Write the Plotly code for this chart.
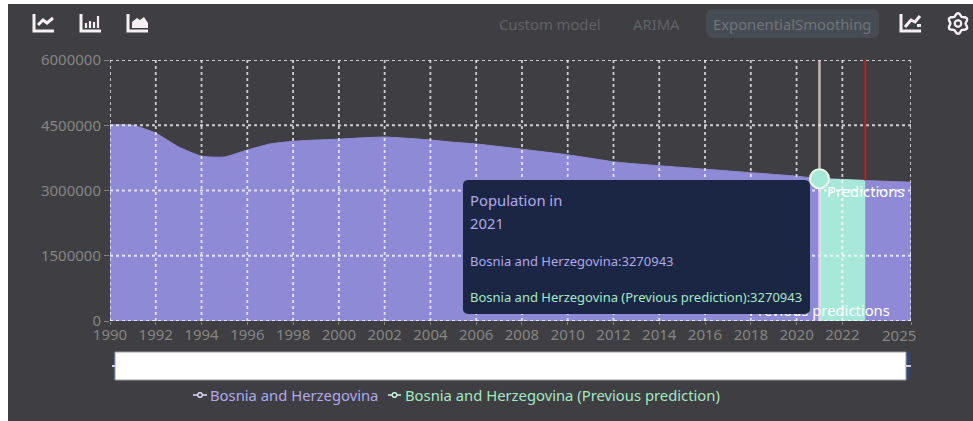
import math
import plotly.graph_objects as go

W, H = 973, 421
L, R, T, B = 110, 911, 60, 321

years = list(range(1990, 2026))
population = [4510000, 4500000, 4320000, 4000000, 3790000, 3770000, 3930000, 4070000, 4130000, 4160000,
              4180000, 4210000, 4230000, 4200000, 4160000, 4110000, 4070000, 4010000, 3950000, 3885000,
              3820000, 3740000, 3660000, 3610000, 3570000, 3530000, 3490000, 3450000, 3410000, 3370000,
              3330000, 3270943, 3255000, 3230000, 3210000, 3190000]
prev_years = [2021, 2022, 2023]
prev_values = [3270943, 3255000, 3230000]
x_ticks = [1990, 1992, 1994, 1996, 1998, 2000, 2002, 2004, 2006, 2008, 2010, 2012, 2014, 2016, 2018, 2020, 2022, 2025]
y_ticks = [0, 1500000, 3000000, 4500000, 6000000]
series_names = ["Bosnia and Herzegovina", "Bosnia and Herzegovina (Previous prediction)"]
buttons = ["Custom model", "ARIMA", "ExponentialSmoothing"]
hover_year = 2021
split_year = 2023

FONT = "Noto Sans"
BG = "#3f3e42"
PURPLE = "#8f8ad6"
LAV = "#aeaaec"
MINT = "#a8e8d8"
MINT_T = "#a4e8c4"
TICK = "#858585"
SIZE = 14.8
GRID = "rgba(255,255,255,0.75)"


def px(x):
    return (x - L) / (R - L)


def py(y):
    return (B - y) / (B - T)


def path(points, close=False):
    s = "M " + " L ".join(f"{px(a):.5f},{py(b):.5f}" for a, b in points)
    return s + (" Z" if close else "")


def pshape(points, color=None, fill=None, width=2, close=False, layer="above"):
    return dict(type="path", xref="paper", yref="paper", path=path(points, close), layer=layer,
                line=dict(color=color or "rgba(0,0,0,0)", width=width), fillcolor=fill or "rgba(0,0,0,0)")


def rect(x0, y0, x1, y1, fill, line=None, layer="above"):
    return dict(type="rect", xref="paper", yref="paper", x0=px(x0), x1=px(x1), y0=py(y0), y1=py(y1),
                fillcolor=fill, line=dict(color=line or "rgba(0,0,0,0)", width=1 if line else 0), layer=layer)


def rrect(x0, y0, x1, y1, r, fill):
    pts = []
    for cx, cy, a0 in [(x1 - r, y0 + r, -90), (x1 - r, y1 - r, 0), (x0 + r, y1 - r, 90), (x0 + r, y0 + r, 180)]:
        for k in range(7):
            t = math.radians(a0 + 15 * k)
            pts.append((cx + r * math.cos(t), cy + r * math.sin(t)))
    return pshape(pts, fill=fill, width=0, close=True)


def ring(cx, cy, r, n=24, **kw):
    pts = [(cx + r * math.cos(2 * math.pi * k / n), cy + r * math.sin(2 * math.pi * k / n)) for k in range(n)]
    return pshape(pts, close=True, **kw)


fig = go.Figure()
fig.add_trace(go.Scatter(x=years, y=population, mode="lines", fill="tozeroy", fillcolor=PURPLE, name=series_names[0],
                         line=dict(color=PURPLE, width=1, shape="spline", smoothing=0.5), showlegend=False))
fig.add_trace(go.Scatter(x=prev_years, y=prev_values, mode="lines", fill="tozeroy", fillcolor=MINT, name=series_names[1],
                         line=dict(color=MINT, width=1), showlegend=False))
fig.add_trace(go.Scatter(x=[hover_year], y=[190000], mode="text",
                         text=["Previous predictions"], textposition="middle center",
                         textfont=dict(family=FONT, size=SIZE, color="white"), showlegend=False))

shapes = [rect(8, 4, W + 2, H + 2, BG, layer="below")]
for v in x_ticks:
    shapes.append(dict(type="line", xref="x", yref="paper", x0=v, x1=v, y0=0, y1=1, layer="above",
                       line=dict(color=GRID, width=1.8, dash="3px,3px")))
for v in y_ticks:
    shapes.append(dict(type="line", xref="paper", yref="y", x0=0, x1=1, y0=v, y1=v, layer="above",
                       line=dict(color=GRID, width=1.8, dash="3px,3px")))
shapes.append(dict(type="line", xref="x", yref="paper", x0=hover_year, x1=hover_year, y0=0, y1=1, layer="above",
                   line=dict(color="rgba(255,222,228,0.72)", width=2.5)))
shapes.append(dict(type="line", xref="x", yref="y", x0=split_year, x1=split_year, y0=prev_values[-1], y1=6000000,
                   layer="above", line=dict(color="#a8262c", width=2)))

# tooltip panel
shapes.append(rrect(463, 180, 810, 314, 5, "#1b2644"))

# range slider
shapes.append(rect(113, 352, 116, 380, "#33466e"))
shapes.append(rect(905, 352, 910, 380, "#33466e"))
shapes.append(rect(115, 352, 906, 380, "white", "#9a9aa2"))
shapes.append(rect(112, 365, 115, 367, "#c8d0e8"))
shapes.append(rect(906, 365, 911, 367, "#c8d0e8"))

# toolbar
shapes.append(rrect(706, 9, 879, 38, 7, "#474c54"))
WH = "#f6f0f4"


def icon(x0, kind):
    y0, y1 = 14, 32
    x1 = x0 + 21
    out = [pshape([(x0 + 1, y0), (x0 + 1, y1 - 1), (x1, y1 - 1)], color=WH, width=3)]
    if kind == "line":
        out.append(pshape([(x0 + 5, y1 - 7), (x0 + 10, y0 + 6), (x0 + 14, y1 - 9), (x0 + 20, y0 + 4)], color=WH, width=3))
    elif kind == "chart":
        out.append(pshape([(x0 + 5, y1 - 5), (x0 + 11, y0 + 6), (x0 + 15, y0 + 8), (x0 + 20, y0 + 2)], color=WH, width=3))
        out.append(rect(x0 + 17, y0 + 10, x0 + 21, y0 + 13, WH))
    elif kind == "bar":
        for dx, top in [(6, 9), (10, 7), (14, 8), (18, 2)]:
            out.append(pshape([(x0 + dx, y1 - 4), (x0 + dx, y0 + top)], color=WH, width=2.2))
    else:
        out.append(pshape([(x0 + 5, y1 - 4), (x0 + 5, y0 + 8), (x0 + 10, y0 + 4), (x0 + 13, y0 + 6), (x0 + 17, y0 + 3),
                           (x0 + 21, y0 + 9), (x0 + 21, y1 - 4)], fill=WH, width=0, close=True))
    return out


shapes += icon(33, "line") + icon(80, "bar") + icon(127, "area") + icon(900, "chart")

gear = []
for k in range(96):
    t = 2 * math.pi * k / 96
    r = 8.9 + 1.3 * math.cos(6 * t)
    gear.append((958 + r * math.cos(t + math.pi / 6), 23.5 + r * math.sin(t + math.pi / 6)))
shapes.append(pshape(gear, color=WH, width=2.4, close=True))
shapes.append(ring(958, 23.5, 3.2, color=WH, width=2.2))

# legend symbols
for x0, x1, col in [(193, 207, "#d8d4f6"), (388, 401, "#c4f0d8")]:
    shapes.append(pshape([(x0, 395), (x1, 395)], color=col, width=1.6))
    shapes.append(ring((x0 + x1) / 2, 395, 2.3, fill=BG, color=col, width=1.5))


def label(x, y, text, color, size=SIZE, anchor="left"):
    return dict(xref="paper", yref="paper", x=px(x), y=py(y), text=text, showarrow=False, xanchor=anchor,
                yanchor="middle", font=dict(family=FONT, size=size, color=color), borderpad=0, borderwidth=0)


hover_val = population[years.index(hover_year)]
prev_val = prev_values[prev_years.index(hover_year)]
annotations = [
    label(499, 24, buttons[0], "#626366"),
    label(633, 24, buttons[1], "#626366"),
    label(713, 24, buttons[2], "#70747a"),
    label(470, 200, "Population in", LAV),
    label(470, 223, str(hover_year), LAV),
    label(470, 261, f"{series_names[0]}:{hover_val}", LAV, 13),
    label(470, 297, f"{series_names[1]}:{prev_val}", MINT_T, 13),
    label(210, 394.5, series_names[0], LAV),
    label(405, 394.5, series_names[1], MINT_T),
    label(899, 335, str(x_ticks[-1]), TICK, 15, "center"),
    dict(xref="x", yref="y", x=split_year, y=3000000, text="Predictions", showarrow=False, xanchor="center",
         yanchor="middle", font=dict(family=FONT, size=SIZE, color="white")),
]

fig.update_layout(
    width=W, height=H, autosize=False, showlegend=False,
    margin=dict(l=L, r=W - R, t=T, b=H - B, pad=0),
    paper_bgcolor="white", plot_bgcolor="rgba(0,0,0,0)",
    font=dict(family=FONT, size=15, color=TICK),
    shapes=shapes, annotations=annotations,
    xaxis=dict(range=[1990, 2025], tickmode="array", tickvals=x_ticks,
               ticktext=[str(v) for v in x_ticks[:-1]] + [""], showgrid=False, zeroline=False,
               ticks="outside", ticklen=3, tickcolor=TICK, tickfont=dict(family=FONT, size=15, color=TICK),
               ticklabelstandoff=-3, showline=False),
    yaxis=dict(range=[0, 6000000], tickmode="array", tickvals=y_ticks, ticktext=[str(v) for v in y_ticks],
               showgrid=False, zeroline=False, ticks="outside", ticklen=5, tickcolor=TICK,
               tickfont=dict(family=FONT, size=15, color=TICK), showline=False),
)
fig.add_shape(type="circle", xref="x", yref="y", xsizemode="pixel", ysizemode="pixel",
              xanchor=hover_year, yanchor=hover_val, x0=-9.5, x1=9.5, y0=-9.5, y1=9.5,
              fillcolor=MINT, line=dict(color="#e8f6ee", width=2), layer="above")
fig.write_html("out.html", config={"displayModeBar": False},
               post_script="document.body.style.margin='0';document.body.style.overflow='hidden';")
